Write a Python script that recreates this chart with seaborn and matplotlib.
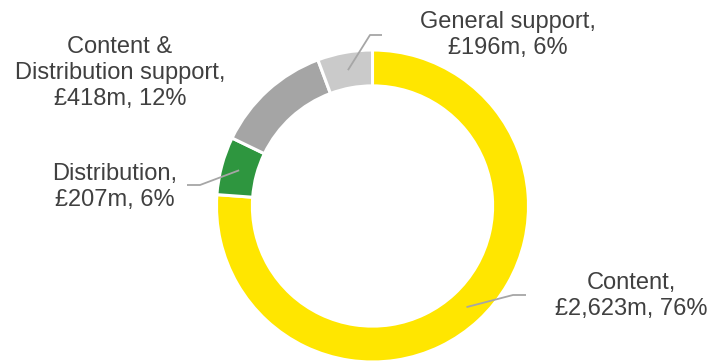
import numpy as np
import matplotlib
matplotlib.use("Agg")
import matplotlib.pyplot as plt
import seaborn as sns

# Spend by category (£m), drawn clockwise from 12 o'clock
categories = ["Content", "Distribution", "Content &\nDistribution support", "General support"]
values = [2623, 207, 418, 196]
colors = ["#FFE600", "#2E963F", "#A5A5A5", "#CACACA"]

sns.set_style("white")
plt.rcParams["font.family"] = ["Liberation Sans", "DejaVu Sans"]

W, H = 710, 363
fig = plt.figure(figsize=(W / 100, H / 100), dpi=100)
ax = fig.add_axes([0, 0, 1, 1])

# Layout in pixel units (y measured downward from the top edge)
cx, cy_px, r_out = 372.5, 206, 156
ring = 0.23
center = (cx, H - cy_px)

wedges, _ = ax.pie(values, colors=colors, startangle=90, counterclock=False,
                   radius=r_out, center=center,
                   wedgeprops=dict(width=r_out * ring, edgecolor="white", linewidth=2.2))

total = sum(values)
pcts = [round(100 * v / total) for v in values]
labels = [f"{c},\n£{v:,}m, {p}%" for c, v, p in zip(categories, values, pcts)]

# label anchor (pixel x, pixel y of block centre) and leader elbow/end points
label_pos = [(631, 296), (115, 187), (120, 73), (508, 35)]
leaders = [[(513, 295), (526, 295)],
           [(200, 185), (187, 185)],
           None,
           [(370, 35), (382, 35)]]

text_color = "#404040"
line_color = "#A6A6A6"
r_mid = r_out * (1 - ring / 2)
for w, lab, (lx, ly), lead in zip(wedges, labels, label_pos, leaders):
    ax.text(lx, H - ly, lab, ha="center", va="center", fontsize=17,
            color=text_color, linespacing=1.24)
    if lead is not None:
        ang = np.deg2rad((w.theta1 + w.theta2) / 2)
        pts = [(cx + r_mid * np.cos(ang), H - cy_px + r_mid * np.sin(ang))]
        pts += [(x, H - y) for x, y in lead]
        xs, ys = zip(*pts)
        ax.plot(xs, ys, color=line_color, lw=1.3, solid_capstyle="butt")

ax.set_xlim(0, W)
ax.set_ylim(0, H)
ax.set_aspect("equal")
ax.axis("off")

fig.savefig("out.png", dpi=100, facecolor="white")
